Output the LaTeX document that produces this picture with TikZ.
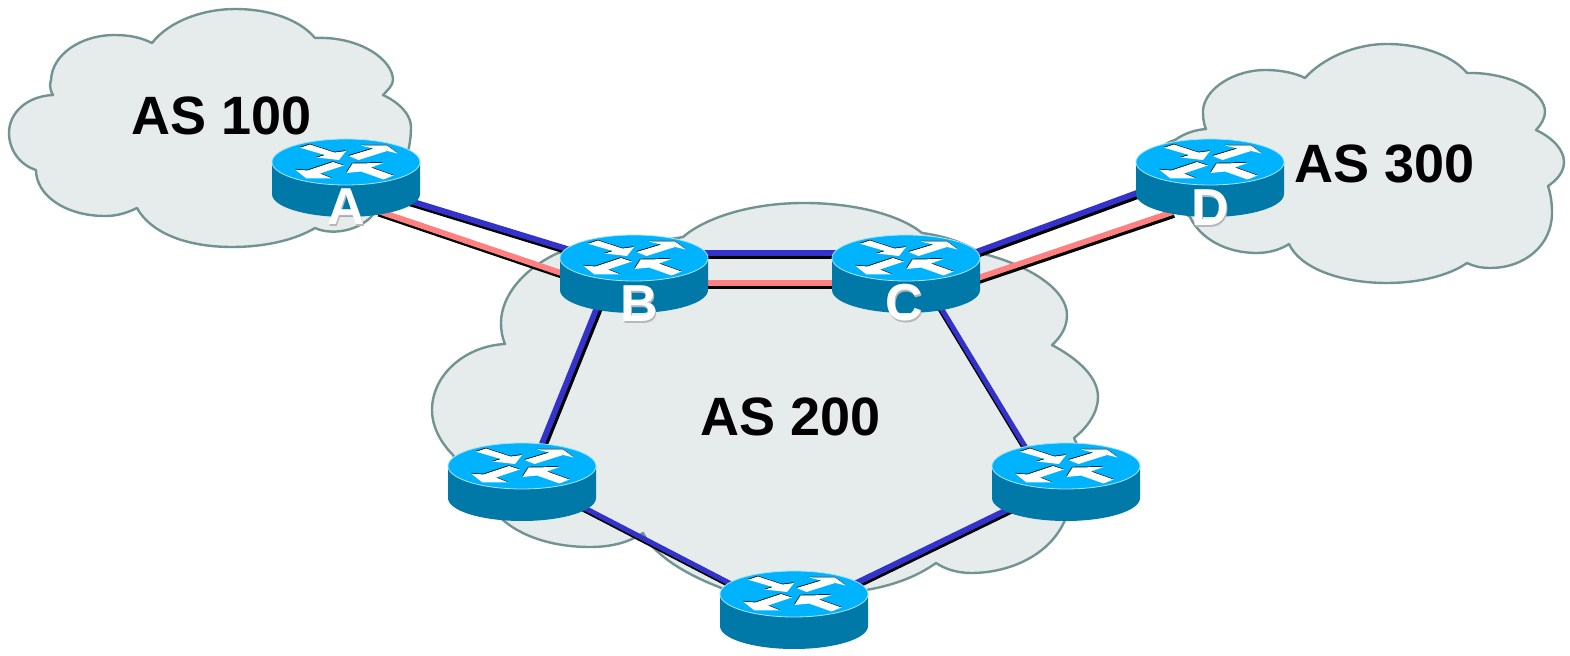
\documentclass[tikz,border=0pt]{standalone}
\usepackage{fontspec}
\setmainfont{Liberation Sans}
\definecolor{cloudfill}{HTML}{E6ECEC}
\definecolor{cloudline}{HTML}{739393}
\definecolor{rtop}{HTML}{00B3FF}
\definecolor{rside}{HTML}{0079A8}
\definecolor{rrim}{HTML}{A8E4F4}
\definecolor{bluelink}{HTML}{3333CC}
\definecolor{pinklink}{HTML}{FF8080}
\newcommand{\arrowshapes}{%
 (-46,-14.3) -- (-36,-17.5) -- (-11.5,-9.5) -- (0,-11) -- (-7,-2) -- (-29,-4.5) -- (-21,-7) -- cycle
 (2.5,-6) -- (27.5,-13.5) -- (15,-16.5) -- (41,-16.5) -- (52,-8.5) -- (41,-11) -- (12.5,-2) -- cycle
 (-13,0) -- (-2,3.5) -- (-26,11.5) -- (-13.5,16.5) -- (-39.5,16.5) -- (-51,7.5) -- (-38.5,8.5) -- cycle
 (47.5,13.5) -- (37.5,17.5) -- (15,9.5) -- (0.5,11) -- (6.5,1.5) -- (37.5,1) -- (25,5.5) -- cycle}
\tikzset{
 x=0.5pt,y=-0.5pt,
 cloudshape/.style={fill=cloudfill,draw=cloudline,line width=1.2pt,line join=round},
 astext/.style={font=\bfseries\fontsize{27}{29}\selectfont,text=black,inner sep=0pt},
 rlabel/.style={font=\bfseries\fontsize{26}{28}\selectfont,text=white,inner sep=0pt},
 rshadow/.style={font=\bfseries\fontsize{26}{28}\selectfont,text=black!28,inner sep=0pt},
 router/.pic={
  \fill[rside] (-74,0) -- (-74,32) .. controls (-74,44.7) and (-40.9,55) .. (0,55)
     .. controls (40.9,55) and (74,44.7) .. (74,32) -- (74,0) -- cycle;
  \draw[rrim,line width=0.4pt,fill=rtop] (-74,0) .. controls (-74,-12.7) and (-40.9,-23) .. (0,-23)
     .. controls (40.9,-23) and (74,-12.7) .. (74,0)
     .. controls (74,12.7) and (40.9,23) .. (0,23)
     .. controls (-40.9,23) and (-74,12.7) .. (-74,0) -- cycle;
  \fill[black,shift={(-0.4,-0.7)}] \arrowshapes;
  \fill[white] \arrowshapes;
 }
}
% \lnk{colour}{from}{offset}{to}{offset}{shadow shift}{width}
\newcommand{\lnk}[7]{%
 \draw[black,line width=#7] ([shift={(#3)},shift={(#6)}]#2) -- ([shift={(#5)},shift={(#6)}]#4);
 \draw[#1,line width=#7] ([shift={(#3)}]#2) -- ([shift={(#5)}]#4);}
\newcommand{\rlab}[4]{%
 \node[rshadow] (#1s) at ([shift={(#3)},shift={(1.6,1.6)}]#2) {#4};
 \node[rlabel] (#1l) at ([shift={(#3)}]#2) {#4};}
\begin{document}
\begin{tikzpicture}
\useasboundingbox (0,0) rectangle (1570,656);
\fill[white] (0,0) rectangle (1570,656);
% clouds
\draw[cloudshape] (152,43) .. controls (170,20) and (205,9) .. (235,9)
 .. controls (270,9) and (300,20) .. (315,38)
 .. controls (360,36) and (393,60) .. (393,80)
 .. controls (393,85) and (388,90) .. (383,95)
 .. controls (400,103) and (411,115) .. (411,127)
 .. controls (411,160) and (395,190) .. (370,218)
 .. controls (355,232) and (330,235) .. (315,228)
 .. controls (295,240) and (265,247) .. (232,247)
 .. controls (185,247) and (150,232) .. (137,208)
 .. controls (125,214) and (115,216) .. (105,216)
 .. controls (65,216) and (36,195) .. (36,170)
 .. controls (20,165) and (9,150) .. (9,133)
 .. controls (9,112) and (28,96) .. (53,95)
 .. controls (49,88) and (50,84) .. (51,80)
 .. controls (52,55) and (80,35) .. (115,35)
 .. controls (130,35) and (142,38) .. (152,43) -- cycle;
\draw[cloudshape] (1305,78) .. controls (1323,58) and (1355,44) .. (1387,44)
 .. controls (1420,44) and (1452,55) .. (1467,73)
 .. controls (1510,72) and (1545,92) .. (1545,112)
 .. controls (1545,118) and (1541,125) .. (1536,130)
 .. controls (1553,138) and (1564,150) .. (1564,162)
 .. controls (1564,172) and (1557,180) .. (1548,186)
 .. controls (1551,195) and (1552,204) .. (1552,213)
 .. controls (1552,245) and (1525,268) .. (1490,268)
 .. controls (1481,268) and (1473,266) .. (1467,263)
 .. controls (1450,275) and (1420,283) .. (1387,283)
 .. controls (1340,283) and (1300,268) .. (1289,244)
 .. controls (1280,250) and (1268,253) .. (1257,253)
 .. controls (1225,253) and (1200,238) .. (1190,217)
 .. controls (1160,195) and (1140,150) .. (1175,140)
 .. controls (1185,133) and (1195,130) .. (1206,129)
 .. controls (1203,122) and (1203,116) .. (1203,110)
 .. controls (1205,88) and (1235,70) .. (1265,70)
 .. controls (1281,70) and (1295,73) .. (1305,78) -- cycle;
\draw[cloudshape] (683,237) .. controls (705,218) and (750,203) .. (804,203)
 .. controls (855,203) and (900,215) .. (922,233)
 .. controls (945,236) and (965,243) .. (980,253)
 .. controls (1030,265) and (1067,290) .. (1067,315)
 .. controls (1067,327) and (1061,337) .. (1052,345)
 .. controls (1080,360) and (1098,378) .. (1098,397)
 .. controls (1098,412) and (1088,427) .. (1074,438)
 .. controls (1090,470) and (1085,495) .. (1065,520)
 .. controls (1050,555) and (1010,573) .. (971,573)
 .. controls (957,573) and (945,569) .. (936,563)
 .. controls (915,578) and (890,586) .. (866,590)
 .. controls (840,605) and (810,608) .. (800,605)
 .. controls (770,604) and (740,597) .. (719,587)
 .. controls (680,572) and (652,552) .. (643,533)
 .. controls (628,543) and (610,547) .. (590,547)
 .. controls (550,547) and (520,535) .. (503,520)
 .. controls (480,500) and (465,478) .. (453,455)
 .. controls (440,442) and (432,426) .. (432,410)
 .. controls (432,375) and (465,346) .. (505,344)
 .. controls (502,337) and (501,330) .. (501,323)
 .. controls (501,295) and (525,268) .. (558,253)
 .. controls (600,245) and (650,243) .. (683,237) -- cycle;
% router positions
\coordinate (A) at (346,162);
\coordinate (B) at (634,258);
\coordinate (C) at (906,258);
\coordinate (D) at (1210,162);
\coordinate (E) at (522,466);
\coordinate (F) at (794,594);
\coordinate (G) at (1066,466);
% links
\lnk{bluelink}{A}{61,38}{B}{-57,-6}{0.6,2.6}{2.9pt}
\lnk{pinklink}{A}{32,49}{B}{-64,18}{0.6,2.6}{2.9pt}
\lnk{bluelink}{B}{60,-5}{C}{-60,-5}{0,3.2}{2.9pt}
\lnk{pinklink}{B}{60,25}{C}{-60,25}{0,3.2}{2.9pt}
\lnk{bluelink}{C}{62,-3}{D}{-65,28}{1,3}{2.9pt}
\lnk{pinklink}{C}{66,22}{D}{-37,50}{1,3}{2.9pt}
\lnk{bluelink}{B}{-34,42}{E}{15,-10}{3,1}{2.9pt}
\lnk{bluelink}{C}{29,40}{G}{-34,-8}{-1.2,0.7}{2.5pt}
\lnk{bluelink}{E}{53,37}{F}{-57,-7}{-0.8,1.5}{2.5pt}
\lnk{bluelink}{F}{52,-6}{G}{-49,39}{1,2.5}{2.9pt}
% routers
\pic (ra) at (A) {router};
\pic (rb) at (B) {router};
\pic (rc) at (C) {router};
\pic (rd) at (D) {router};
\pic (re) at (E) {router};
\pic (rf) at (F) {router};
\pic (rg) at (G) {router};
% labels
\rlab{la}{A}{0,45}{A}
\rlab{lb}{B}{5,46}{B}
\rlab{lc}{C}{-2,45}{C}
\rlab{ld}{D}{0,46}{D}
\node[astext] (as100) at (222,116) {AS 100};
\node[astext] (as200) at (791,417) {AS 200};
\node[astext] (as300) at (1385,164) {AS 300};
\end{tikzpicture}
\end{document}
